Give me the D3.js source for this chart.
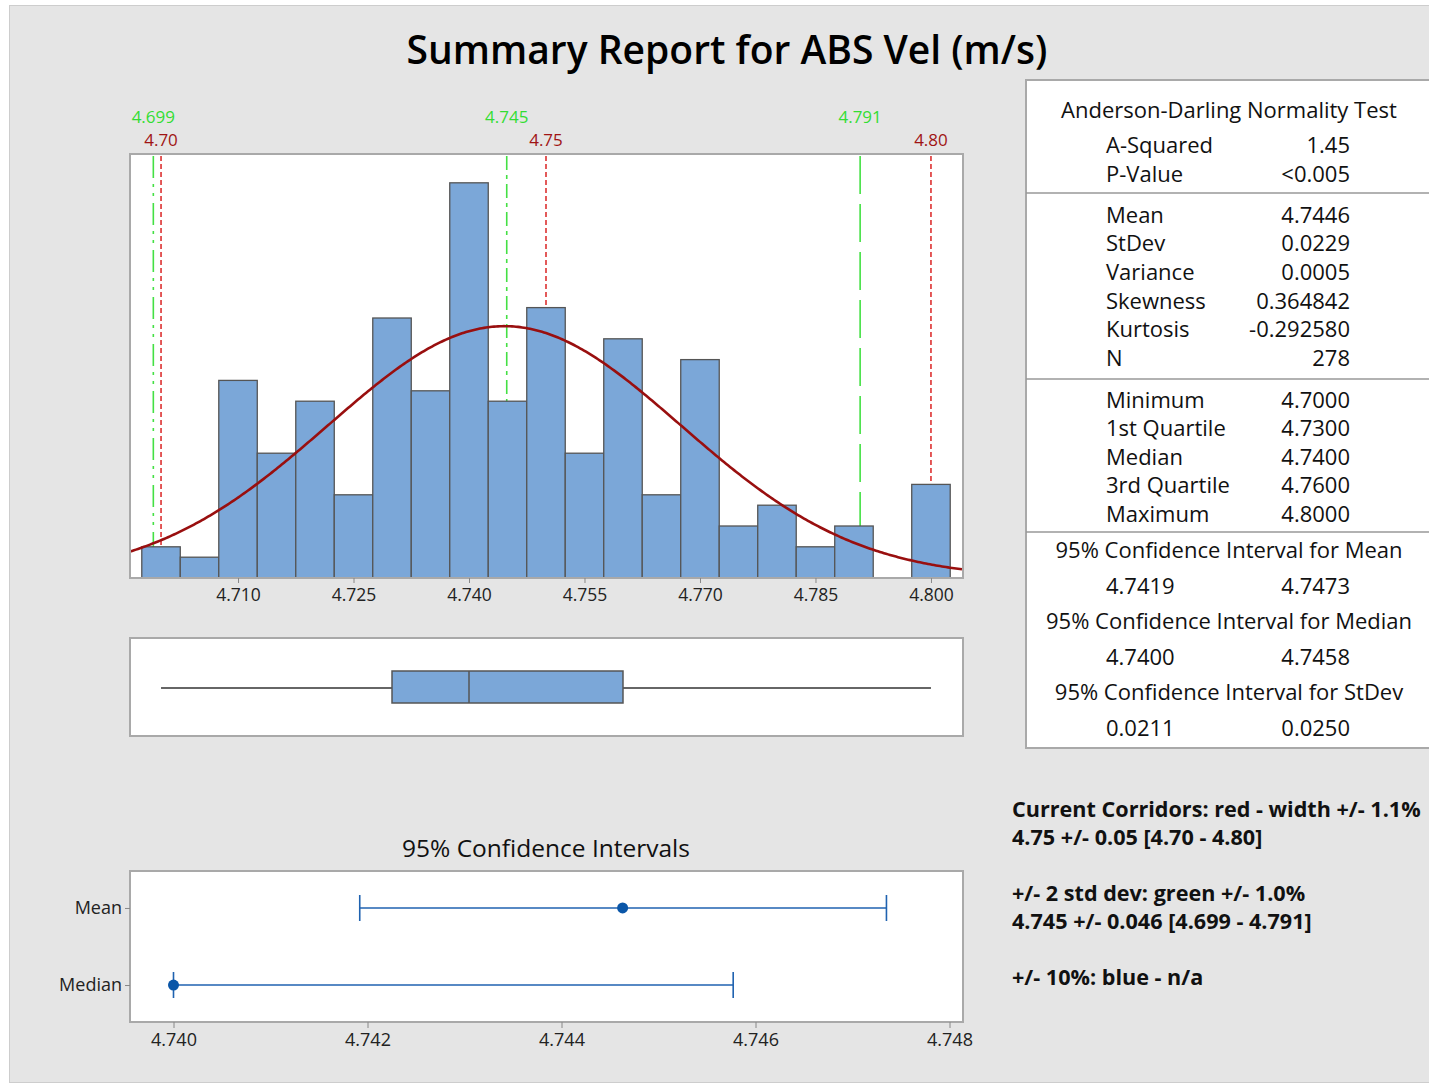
<!DOCTYPE html>
<html>
<head>
<meta charset="utf-8">
<script src="https://cdn.jsdelivr.net/npm/d3@7"></script>
<style>
  body { margin: 0; background: #fff; }
  text { font-family: "Open Sans", "Noto Sans", sans-serif; }
</style>
</head>
<body>
<div id="chart"></div>
<script>
var w = 1429;
var h = 1084;

// histogram data (bin centres, counts)
var binCenters = [4.700, 4.705, 4.710, 4.715, 4.720, 4.725, 4.730, 4.735, 4.740, 4.745, 4.750,
  4.755, 4.760, 4.765, 4.770, 4.775, 4.780, 4.785, 4.790, 4.795, 4.800];
var binCounts = [3, 2, 19, 12, 17, 8, 25, 18, 38, 17, 26, 12, 23, 8, 21, 5, 7, 3, 5, 0, 9];
var binWidth = 0.005;
var histTicks = [4.710, 4.725, 4.740, 4.755, 4.770, 4.785, 4.800];

// fit
var mean = 4.7446;
var stdev = 0.0229;
var n = 278;

// reference lines
var redRefs = [4.70, 4.75, 4.80];
var redLabels = ["4.70", "4.75", "4.80"];
var greenRefs = [4.699, 4.7449, 4.7908];
var greenLabels = ["4.699", "4.745", "4.791"];
var greenDash = ["22,6,3,6,3,7", "14,5,4,5", "38,10"];

// box plot: min, q1, median, q3, max
var boxStats = [4.700, 4.730, 4.740, 4.760, 4.800];

// confidence intervals
var ciNames = ["Mean", "Median"];
var ciCenter = [4.74463, 4.7400];
var ciLow = [4.74192, 4.7400];
var ciHigh = [4.74735, 4.74577];
var ciTicks = [4.740, 4.742, 4.744, 4.746, 4.748];

// stats table
var adLabels = ["A-Squared", "P-Value"];
var adValues = ["1.45", "<0.005"];
var momentLabels = ["Mean", "StDev", "Variance", "Skewness", "Kurtosis", "N"];
var momentValues = ["4.7446", "0.0229", "0.0005", "0.364842", "-0.292580", "278"];
var quantLabels = ["Minimum", "1st Quartile", "Median", "3rd Quartile", "Maximum"];
var quantValues = ["4.7000", "4.7300", "4.7400", "4.7600", "4.8000"];
var ciTitles = ["95% Confidence Interval for Mean", "95% Confidence Interval for Median", "95% Confidence Interval for StDev"];
var ciLowText = ["4.7419", "4.7400", "0.0211"];
var ciHighText = ["4.7473", "4.7458", "0.0250"];

var notes = ["Current Corridors: red - width +/- 1.1%", "4.75 +/- 0.05 [4.70 - 4.80]", "",
  "+/- 2 std dev: green +/- 1.0%", "4.745 +/- 0.046 [4.699 - 4.791]", "", "+/- 10%: blue - n/a"];

var barFill = "#7ba7d8";
var frameCol = "#a9a9a9";

var svg = d3.select("#chart").append("svg").attr("width", w).attr("height", h);

// background panel
svg.append("rect").attr("x", 9.5).attr("y", 5.5).attr("width", 1440).attr("height", 1077)
  .attr("fill", "#e5e5e5").attr("stroke", "#cdcdcd");

svg.append("text").attr("x", 727).attr("y", 50).attr("dy", "0.35em")
  .attr("text-anchor", "middle").attr("font-size", 39).attr("font-weight", 600).attr("fill", "#000")
  .text("Summary Report for ABS Vel (m/s)");

// ---- histogram
var x = d3.scaleLinear().domain([4.69597, 4.80416]).range([130, 963]);
var y = d3.scaleLinear().domain([0, 40.77]).range([578, 154]);

svg.append("rect").attr("x", 130).attr("y", 154).attr("width", 833).attr("height", 424)
  .attr("fill", "#fff");

// reference lines behind bars
svg.selectAll("line.green").data(greenRefs).enter().append("line").attr("class", "green")
  .attr("x1", d => x(d)).attr("x2", d => x(d)).attr("y1", 156).attr("y2", 578)
  .attr("stroke", "#44e044").attr("stroke-width", 1.6)
  .attr("stroke-dasharray", (d, i) => greenDash[i]);
svg.selectAll("line.red").data(redRefs).enter().append("line").attr("class", "red")
  .attr("x1", d => x(d)).attr("x2", d => x(d)).attr("y1", 156).attr("y2", 578)
  .attr("stroke", "#d81414").attr("stroke-width", 1.4).attr("stroke-dasharray", "5,3");

svg.selectAll("text.glab").data(greenRefs).enter().append("text").attr("class", "glab")
  .attr("x", d => x(d)).attr("y", 117).attr("dy", "0.35em").attr("text-anchor", "middle")
  .attr("font-size", 17).attr("fill", "#33dd33").text((d, i) => greenLabels[i]);
svg.selectAll("text.rlab").data(redRefs).enter().append("text").attr("class", "rlab")
  .attr("x", d => x(d)).attr("y", 140).attr("dy", "0.35em").attr("text-anchor", "middle")
  .attr("font-size", 17).attr("fill", "#a01414").text((d, i) => redLabels[i]);

svg.selectAll("rect.bar").data(binCenters).enter().append("rect").attr("class", "bar")
  .attr("x", d => x(d - binWidth / 2))
  .attr("width", d => x(d + binWidth / 2) - x(d - binWidth / 2))
  .attr("y", (d, i) => y(binCounts[i]))
  .attr("height", (d, i) => y(0) - y(binCounts[i]))
  .attr("fill", barFill).attr("stroke", "#555").attr("stroke-width", 1.3);

// normal fit curve
var curveX = d3.range(130, 964, 2).map(px => x.invert(px));
var pdf = v => n * binWidth / (stdev * Math.sqrt(2 * Math.PI)) * Math.exp(-0.5 * Math.pow((v - mean) / stdev, 2));
svg.append("path").datum(curveX)
  .attr("d", d3.line().x(d => x(d)).y(d => y(pdf(d))))
  .attr("fill", "none").attr("stroke", "#990f0f").attr("stroke-width", 2.6);

svg.append("rect").attr("x", 130).attr("y", 154).attr("width", 833).attr("height", 424)
  .attr("fill", "none").attr("stroke", frameCol).attr("stroke-width", 2);

var hAxis = svg.append("g").attr("transform", "translate(0,578)")
  .call(d3.axisBottom(x).tickValues(histTicks).tickFormat(d3.format(".3f")).tickSize(5).tickSizeOuter(0));
hAxis.select(".domain").remove();
hAxis.selectAll("line").attr("stroke", "#888");
hAxis.selectAll("text").attr("font-size", 17.5).attr("fill", "#222").attr("dy", "0.85em")
  .attr("font-family", "'Open Sans', sans-serif");

// ---- box plot
svg.append("rect").attr("x", 130).attr("y", 638).attr("width", 833).attr("height", 98)
  .attr("fill", "#fff").attr("stroke", frameCol).attr("stroke-width", 2);
svg.append("line").attr("x1", x(boxStats[0])).attr("x2", x(boxStats[4])).attr("y1", 688).attr("y2", 688)
  .attr("stroke", "#666").attr("stroke-width", 2);
svg.append("rect").attr("x", x(boxStats[1])).attr("y", 671)
  .attr("width", x(boxStats[3]) - x(boxStats[1])).attr("height", 32)
  .attr("fill", barFill).attr("stroke", "#555").attr("stroke-width", 1.5);
svg.append("line").attr("x1", x(boxStats[2])).attr("x2", x(boxStats[2])).attr("y1", 671).attr("y2", 703)
  .attr("stroke", "#555").attr("stroke-width", 1.5);

// ---- confidence intervals
svg.append("text").attr("x", 546).attr("y", 848).attr("dy", "0.35em").attr("text-anchor", "middle")
  .attr("font-size", 24.5).attr("fill", "#111").text("95% Confidence Intervals");

var cx = d3.scaleLinear().domain([4.740, 4.748]).range([173.5, 949.5]);
var cy = d3.scalePoint().domain(ciNames).range([871, 1022]).padding(0.48);

svg.append("rect").attr("x", 130).attr("y", 871).attr("width", 833).attr("height", 151)
  .attr("fill", "#fff").attr("stroke", frameCol).attr("stroke-width", 2);

var cAxis = svg.append("g").attr("transform", "translate(0,1022)")
  .call(d3.axisBottom(cx).tickValues(ciTicks).tickFormat(d3.format(".3f")).tickSize(6).tickSizeOuter(0));
cAxis.select(".domain").remove();
cAxis.selectAll("line").attr("stroke", "#888");
cAxis.selectAll("text").attr("font-size", 18).attr("fill", "#222").attr("dy", "0.85em")
  .attr("font-family", "'Open Sans', sans-serif");

var yAxis = svg.append("g").attr("transform", "translate(130,0)")
  .call(d3.axisLeft(cy).tickSize(5).tickSizeOuter(0));
yAxis.select(".domain").remove();
yAxis.selectAll("line").attr("stroke", "#888");
yAxis.selectAll("text").attr("font-size", 18).attr("fill", "#222")
  .attr("font-family", "'Open Sans', sans-serif");

var ciBlue = "#1f62b0";
ciNames.forEach(function (name, i) {
  var yy = cy(name);
  svg.append("line").attr("x1", cx(ciLow[i])).attr("x2", cx(ciHigh[i])).attr("y1", yy).attr("y2", yy)
    .attr("stroke", ciBlue).attr("stroke-width", 1.6);
  [ciLow[i], ciHigh[i]].forEach(function (v) {
    svg.append("line").attr("x1", cx(v)).attr("x2", cx(v)).attr("y1", yy - 13).attr("y2", yy + 13)
      .attr("stroke", ciBlue).attr("stroke-width", 1.6);
  });
  svg.append("circle").attr("cx", cx(ciCenter[i])).attr("cy", yy).attr("r", 5.5).attr("fill", "#0a56a8");
});

// ---- stats table
svg.append("rect").attr("x", 1026).attr("y", 80).attr("width", 440).attr("height", 668)
  .attr("fill", "#fff").attr("stroke", frameCol).attr("stroke-width", 2);
[193, 379, 532].forEach(function (yy) {
  svg.append("line").attr("x1", 1026).attr("x2", 1429).attr("y1", yy).attr("y2", yy)
    .attr("stroke", "#999").attr("stroke-width", 1.5);
});

var tfs = 22;
function centerText(t, yy) {
  svg.append("text").attr("x", 1229).attr("y", yy).attr("dy", "0.35em").attr("text-anchor", "middle")
    .attr("font-size", tfs).attr("font-weight", 500).attr("fill", "#111").text(t);
}
function rowText(label, value, yy) {
  svg.append("text").attr("x", 1106).attr("y", yy).attr("dy", "0.35em")
    .attr("font-size", tfs).attr("font-weight", 500).attr("fill", "#111").text(label);
  svg.append("text").attr("x", 1350).attr("y", yy).attr("dy", "0.35em").attr("text-anchor", "end")
    .attr("font-size", tfs).attr("font-weight", 500).attr("fill", "#111").text(value);
}

centerText("Anderson-Darling Normality Test", 110);
adLabels.forEach((l, i) => rowText(l, adValues[i], 145 + i * 29));
momentLabels.forEach((l, i) => rowText(l, momentValues[i], 215 + i * 28.6));
quantLabels.forEach((l, i) => rowText(l, quantValues[i], 400 + i * 28.5));
ciTitles.forEach(function (t, i) {
  centerText(t, 550 + i * 71);
  rowText(ciLowText[i], ciHighText[i], 586 + i * 71);
});

// ---- notes
svg.selectAll("text.note").data(notes).enter().append("text").attr("class", "note")
  .attr("x", 1012).attr("y", (d, i) => 809 + i * 28).attr("dy", "0.35em")
  .attr("font-size", 21.6).attr("font-weight", "bold").attr("fill", "#111").text(d => d);
</script>
</body>
</html>
